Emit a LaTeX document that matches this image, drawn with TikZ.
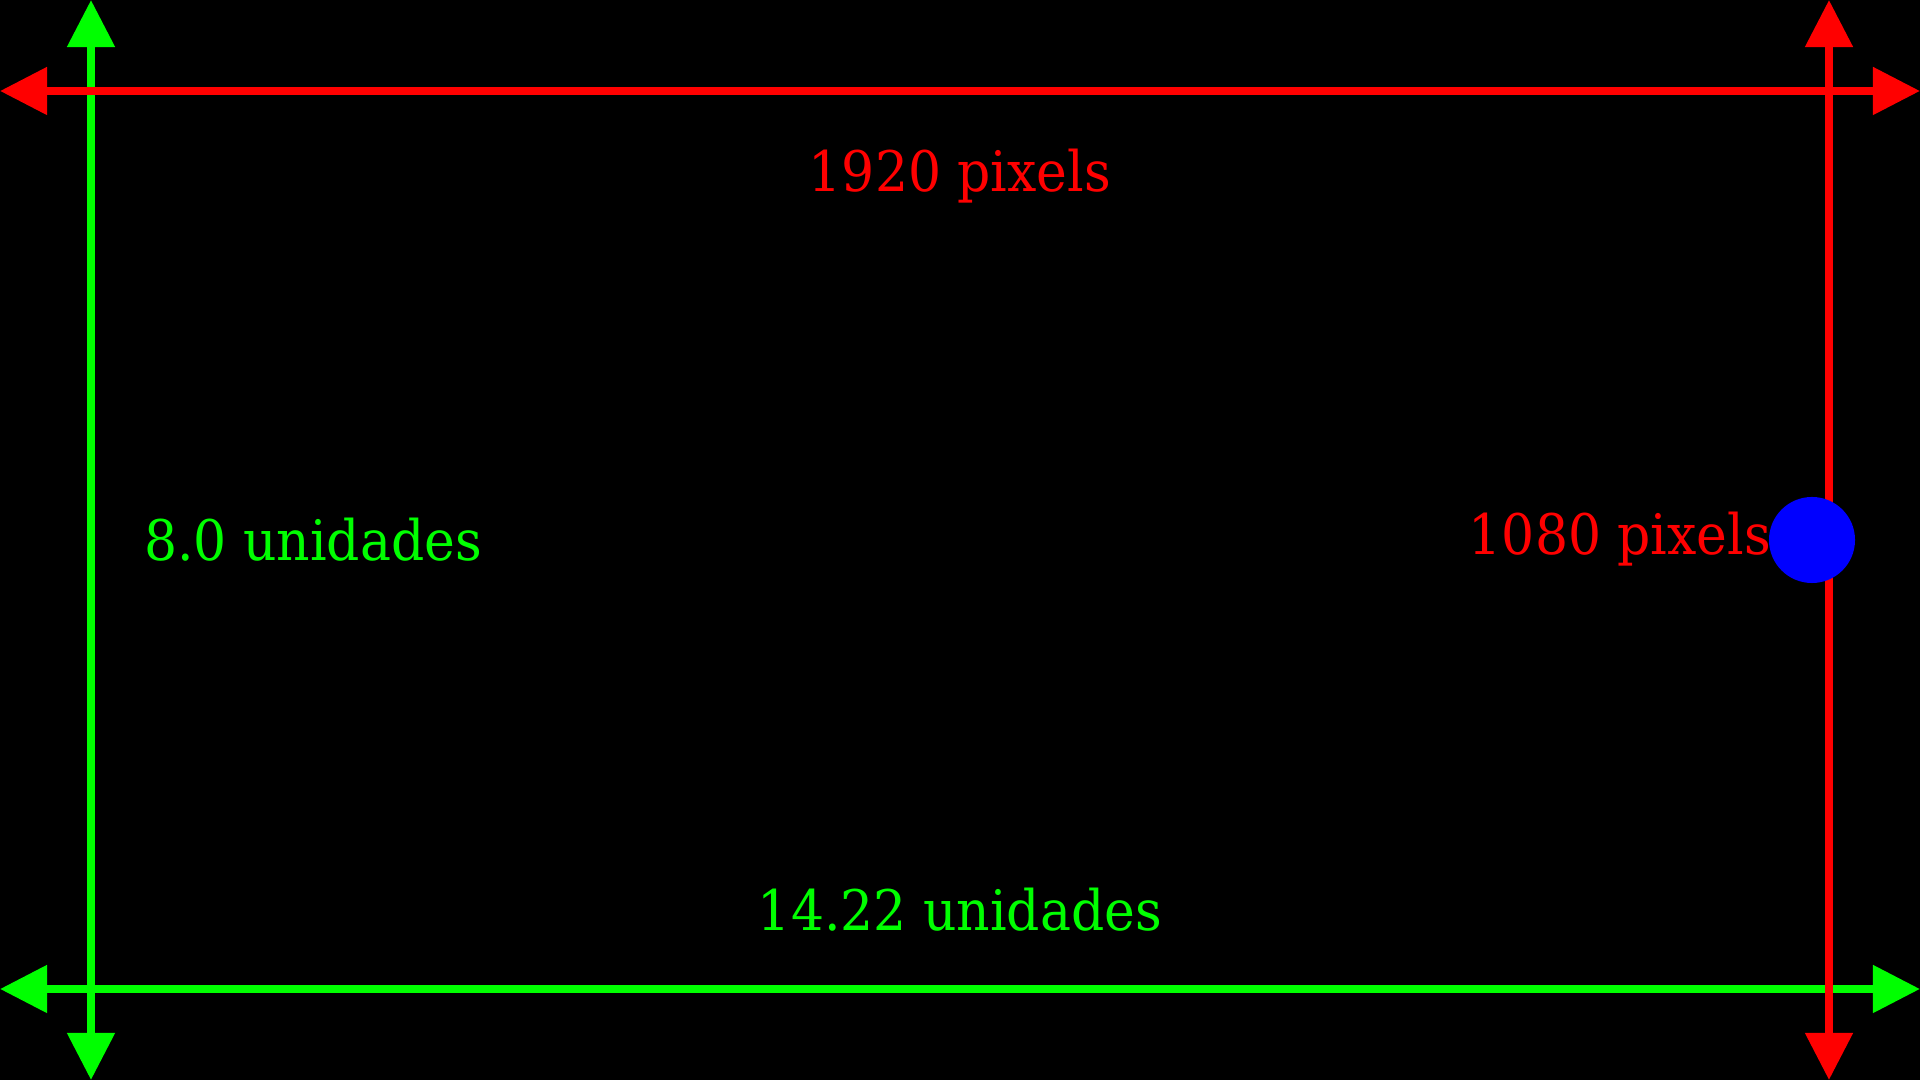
\documentclass[tikz,border=0pt]{standalone}
\usepackage{fontspec}
\setmainfont{DejaVu Serif}[FakeStretch=0.93]
\usetikzlibrary{arrows.meta}
\definecolor{pred}{HTML}{FF0000}
\definecolor{pgreen}{HTML}{00FF00}
\definecolor{pblue}{HTML}{0000FF}
\begin{document}
\begin{tikzpicture}[x=0.01cm,y=-0.01cm,
  dimline/.style={line width=0.08cm,{Triangle[length=0.47cm,width=0.46cm]}-{Triangle[length=0.47cm,width=0.46cm]}},
  lbl/.style={anchor=base,inner sep=0pt,font=\fontsize{15.9pt}{19pt}\selectfont}]
\path[fill=black,use as bounding box] (0,0) rectangle (1920,1080);
% endpoints
\coordinate (gvT) at (91,0);
\coordinate (gvB) at (91,1080);
\coordinate (ghL) at (0,989);
\coordinate (ghR) at (1920,989);
\coordinate (rhL) at (0,91);
\coordinate (rhR) at (1920,91);
\coordinate (rvT) at (1829,0);
\coordinate (rvB) at (1829,1080);
% green arrows
\draw[dimline,pgreen,fill=pgreen] (gvT) -- (gvB);
\draw[dimline,pgreen,fill=pgreen] (ghL) -- (ghR);
% red arrows
\draw[dimline,pred,fill=pred] (rhL) -- (rhR);
\draw[dimline,pred,fill=pred] (rvT) -- (rvB);
% labels
\node[lbl,text=pred] (w) at (960,192) {1920 pixels};
\node[lbl,text=pgreen] (hu) at (313,561) {8.0 unidades};
\node[lbl,text=pred] (h) at (1620,555) {1080 pixels};
\node[lbl,text=pgreen] (wu) at (960,931) {14.22 unidades};
% dot
\node[circle,fill=pblue,inner sep=0pt,minimum size=0.86cm] (dot) at (1812,540) {};
\end{tikzpicture}
\end{document}
